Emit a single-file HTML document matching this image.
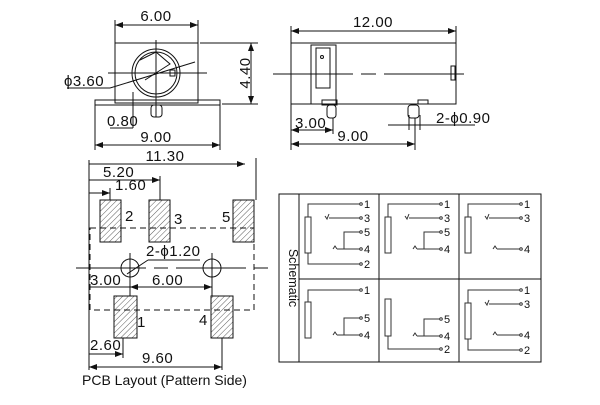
<!DOCTYPE html>
<html><head><style>
html,body{margin:0;padding:0;background:#fff;}
svg text{font-family:"Liberation Sans",sans-serif;fill:#111;}
</style></head><body>
<svg width="600" height="400" viewBox="0 0 600 400" xmlns="http://www.w3.org/2000/svg">
<defs>
<pattern id="h" width="4" height="4" patternUnits="userSpaceOnUse" patternTransform="rotate(45)">
<line x1="0" y1="0" x2="0" y2="4" stroke="#333" stroke-width="0.8"/></pattern>
<marker id="a" markerWidth="8" markerHeight="6" refX="8" refY="3" orient="auto-start-reverse"><path d="M0,0 L8,3 L0,6z" fill="#111"/></marker>
</defs>
<g stroke="#111" stroke-width="1" fill="none">
<rect x="115" y="43" width="83" height="60"/>
<rect x="95" y="100" width="125" height="5"/>
<circle cx="156" cy="73" r="24"/><circle cx="156" cy="73" r="21"/>
<path d="M140,60 L156,52 L170,64 L145,80"/>
<rect x="170" y="70" width="5" height="6"/>
<line x1="108" y1="73" x2="207" y2="73"/>
<line x1="156" y1="40" x2="156" y2="117"/>
<rect x="151" y="105" width="11" height="12" rx="3"/>
<line x1="115" y1="43" x2="115" y2="20"/><line x1="198" y1="43" x2="198" y2="20"/>
<line x1="115" y1="25" x2="198" y2="25" marker-start="url(#a)" marker-end="url(#a)"/>
<line x1="200" y1="43" x2="258" y2="43"/><line x1="222" y1="104" x2="258" y2="104"/>
<line x1="251" y1="43" x2="251" y2="104" marker-start="url(#a)" marker-end="url(#a)"/>
<line x1="133" y1="92" x2="133" y2="128"/>
<line x1="110" y1="128" x2="133" y2="128"/>
<line x1="95" y1="105" x2="95" y2="150"/><line x1="220" y1="105" x2="220" y2="150"/>
<line x1="95" y1="145" x2="220" y2="145" marker-start="url(#a)" marker-end="url(#a)"/>
<line x1="67" y1="88" x2="110" y2="88"/><line x1="110" y1="88" x2="195" y2="62"/>
<rect x="291" y="43" width="165" height="61"/>
<rect x="311" y="45" width="25" height="59"/>
<rect x="316" y="48" width="14" height="40"/>
<circle cx="322" cy="57" r="1.5"/>
<line x1="273" y1="74" x2="467" y2="74" stroke-dasharray="80,8,15,8"/>
<rect x="451" y="66" width="4" height="14"/>
<rect x="322" y="100" width="15" height="5"/>
<rect x="327" y="105" width="9" height="13" rx="3"/>
<rect x="418" y="100" width="10" height="4"/>
<rect x="408" y="105" width="11" height="13" rx="3"/>
<line x1="291" y1="43" x2="291" y2="26"/><line x1="456" y1="43" x2="456" y2="26"/>
<line x1="291" y1="31" x2="456" y2="31" marker-start="url(#a)" marker-end="url(#a)"/>
<line x1="291" y1="104" x2="291" y2="150"/><line x1="333" y1="118" x2="333" y2="134"/>
<line x1="291" y1="130" x2="333" y2="130" marker-start="url(#a)" marker-end="url(#a)"/>
<line x1="415" y1="118" x2="415" y2="150"/>
<line x1="291" y1="144" x2="415" y2="144" marker-start="url(#a)" marker-end="url(#a)"/>
<line x1="388" y1="125" x2="475" y2="125"/>
<line x1="409" y1="115" x2="409" y2="130"/><line x1="420" y1="115" x2="420" y2="130"/>
<g fill="url(#h)">
<rect x="100" y="200" width="21" height="42"/><rect x="149" y="200" width="21" height="42"/>
<rect x="233" y="200" width="21" height="42"/><rect x="114" y="296" width="23" height="42"/>
<rect x="211" y="296" width="22" height="42"/></g>
<rect x="90" y="228" width="164" height="82" stroke-dasharray="6,4"/>
<circle cx="130" cy="268" r="9"/><circle cx="212" cy="268" r="9"/>
<line x1="76" y1="268" x2="268" y2="268" stroke-dasharray="70,8,14,8"/>
<line x1="130" y1="253" x2="130" y2="296"/><line x1="212" y1="253" x2="212" y2="296"/>
<line x1="127" y1="274" x2="148" y2="260"/><line x1="148" y1="260" x2="200" y2="260"/>
<line x1="89" y1="160" x2="89" y2="370"/>
<line x1="256" y1="158" x2="256" y2="200"/>
<line x1="89" y1="164" x2="245" y2="164" marker-end="url(#a)"/>
<line x1="160" y1="176" x2="160" y2="200"/>
<line x1="89" y1="180" x2="160" y2="180" marker-end="url(#a)"/>
<line x1="110" y1="188" x2="110" y2="200"/>
<line x1="89" y1="193" x2="110" y2="193" marker-end="url(#a)"/>
<line x1="89" y1="287" x2="130" y2="287"/>
<line x1="130" y1="287" x2="212" y2="287" marker-start="url(#a)" marker-end="url(#a)"/>
<line x1="123" y1="338" x2="123" y2="358"/>
<line x1="89" y1="354" x2="123" y2="354" marker-end="url(#a)"/>
<line x1="222" y1="338" x2="222" y2="370"/>
<line x1="89" y1="367" x2="222" y2="367" marker-start="url(#a)" marker-end="url(#a)"/>
<rect x="279" y="194" width="262" height="168"/>
<line x1="299" y1="194" x2="299" y2="362"/>
<line x1="379" y1="194" x2="379" y2="362"/>
<line x1="459" y1="194" x2="459" y2="362"/>
<line x1="299" y1="279" x2="541" y2="279"/>
</g>
<g stroke="#333" stroke-width="1" fill="none">
<g transform="translate(299,194)"><rect x="6" y="23" width="6" height="36"/><path d="M9,23V10H61M30,24H61M45,55V38H61M38,55H61M9,59V70H61"/><path d="M26,22l2,3 2,-5M34,55l2,-3 2,3"/><circle cx="62" cy="10" r="1.3"/><circle cx="62" cy="24" r="1.3"/><circle cx="62" cy="38" r="1.3"/><circle cx="62" cy="55" r="1.3"/><circle cx="62" cy="70" r="1.3"/></g>
<g transform="translate(379,194)"><rect x="6" y="23" width="6" height="36"/><path d="M9,23V10H61M30,24H61M45,55V38H61M38,55H61"/><path d="M26,22l2,3 2,-5M34,55l2,-3 2,3"/><circle cx="62" cy="10" r="1.3"/><circle cx="62" cy="24" r="1.3"/><circle cx="62" cy="38" r="1.3"/><circle cx="62" cy="55" r="1.3"/></g>
<g transform="translate(459,194)"><rect x="6" y="23" width="6" height="36"/><path d="M9,23V10H61M30,24H61M38,55H61"/><path d="M26,22l2,3 2,-5M34,55l2,-3 2,3"/><circle cx="62" cy="10" r="1.3"/><circle cx="62" cy="24" r="1.3"/><circle cx="62" cy="55" r="1.3"/></g>
<g transform="translate(299,279)"><rect x="6" y="23" width="6" height="36"/><path d="M9,23V11H61M45,56V39H61M38,56H61"/><path d="M34,56l2,-3 2,3"/><circle cx="62" cy="11" r="1.3"/><circle cx="62" cy="39" r="1.3"/><circle cx="62" cy="56" r="1.3"/></g>
<g transform="translate(379,279)"><rect x="6" y="20" width="6" height="37"/><path d="M9,57V70H61M45,57V40H61M38,57H61"/><path d="M34,57l2,-3 2,3"/><circle cx="62" cy="40" r="1.3"/><circle cx="62" cy="57" r="1.3"/><circle cx="62" cy="70" r="1.3"/></g>
<g transform="translate(459,279)"><rect x="6" y="24" width="6" height="36"/><path d="M9,24V11H61M30,25H61M38,56H61M9,60V71H61"/><path d="M26,23l2,3 2,-5M34,56l2,-3 2,3"/><circle cx="62" cy="11" r="1.3"/><circle cx="62" cy="25" r="1.3"/><circle cx="62" cy="56" r="1.3"/><circle cx="62" cy="71" r="1.3"/></g>
</g>
<g font-size="15" letter-spacing="0.5">
<text x="156" y="21" text-anchor="middle">6.00</text>
<text x="245" y="73" text-anchor="middle" transform="rotate(-90 245 73)" dy="5">4.40</text>
<text x="64" y="86">ϕ3.60</text>
<text x="107" y="126">0.80</text>
<text x="156" y="142" text-anchor="middle">9.00</text>
<text x="373" y="27" text-anchor="middle">12.00</text>
<text x="295" y="128">3.00</text>
<text x="353" y="141" text-anchor="middle">9.00</text>
<text x="436" y="123">2-ϕ0.90</text>
<text x="165" y="161" text-anchor="middle">11.30</text>
<text x="103" y="177">5.20</text>
<text x="115" y="190">1.60</text>
<text x="125" y="221">2</text><text x="174" y="224">3</text><text x="222" y="222">5</text>
<text x="137" y="327">1</text><text x="199" y="325">4</text>
<text x="146" y="256">2-ϕ1.20</text>
<text x="90" y="285">3.00</text>
<text x="152" y="285">6.00</text>
<text x="90" y="350">2.60</text>
<text x="142" y="363">9.60</text>
</g>
<text x="82" y="385" font-size="14">PCB Layout (Pattern Side)</text>
<text x="289" y="278" font-size="12.5" text-anchor="middle" transform="rotate(90 289 278)">Schematic</text>
<g font-size="11">
<g transform="translate(299,194)"><text x="65" y="14">1</text><text x="65" y="28">3</text><text x="65" y="42">5</text><text x="65" y="59">4</text><text x="65" y="74">2</text></g>
<g transform="translate(379,194)"><text x="65" y="14">1</text><text x="65" y="28">3</text><text x="65" y="42">5</text><text x="65" y="59">4</text></g>
<g transform="translate(459,194)"><text x="65" y="14">1</text><text x="65" y="28">3</text><text x="65" y="59">4</text></g>
<g transform="translate(299,279)"><text x="65" y="15">1</text><text x="65" y="43">5</text><text x="65" y="60">4</text></g>
<g transform="translate(379,279)"><text x="65" y="44">5</text><text x="65" y="61">4</text><text x="65" y="74">2</text></g>
<g transform="translate(459,279)"><text x="65" y="15">1</text><text x="65" y="29">3</text><text x="65" y="60">4</text><text x="65" y="75">2</text></g>
</g>
</svg>
</body></html>
